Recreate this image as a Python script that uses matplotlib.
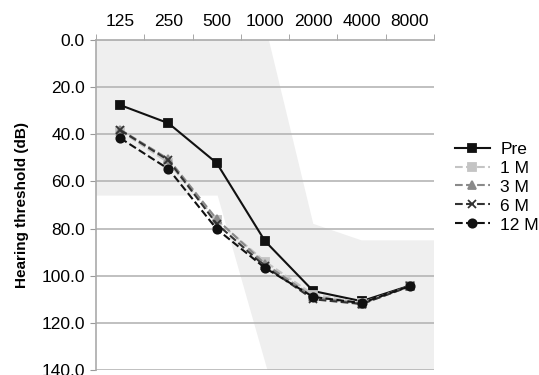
import numpy as np
import matplotlib; matplotlib.use("Agg")
import matplotlib.pyplot as plt
from matplotlib.ticker import FixedLocator

plt.rcParams["font.family"] = ["Liberation Sans", "DejaVu Sans"]

# ── Data ───────────────────────────────────────────────────────────────────────
freqs = ["125", "250", "500", "1000", "2000", "4000", "8000"]
pre   = [27.6, 35.3, 52.2, 85.3, 106.5, 110.8, 104.2]
m1    = [38.5, 52.0, 76.5, 94.0, 108.0, 111.5, 104.5]
m3    = [38.0, 50.5, 76.0, 95.0, 109.0, 112.0, 104.5]
m6    = [38.2, 51.0, 78.0, 96.0, 110.0, 112.0, 104.5]
m12   = [41.6, 54.7, 80.2, 96.7, 109.0, 111.6, 104.4]

# shaded region (frequency index, dB)
region_x = [-0.5, 3.08, 4.0, 5.0, 6.5, 6.5, 3.05, 2.02, -0.5]
region_y = [0, 0, 78, 85, 85, 140, 140, 66, 66]

yticks = [0, 20, 40, 60, 80, 100, 120, 140]

# ── Figure ─────────────────────────────────────────────────────────────────────
fig = plt.figure(figsize=(5.39, 3.75), dpi=100, facecolor="white")
ax = fig.add_axes([96/539, 1 - 370/375, (434 - 96)/539, (370 - 40)/375])

x = np.arange(len(freqs))
ax.fill(region_x, region_y, color="#efefef", lw=0, zorder=0)

for yv in yticks[1:]:
    ax.axhline(yv, color="#b5b5b5", lw=1.2, zorder=1)

series = [
    ("Pre",  pre, "-",  "#111111", "s", 6),
    ("1 M",  m1,  "--", "#c4c4c4", "s", 6),
    ("3 M",  m3,  "--", "#8a8a8a", "^", 6),
    ("6 M",  m6,  "--", "#333333", "x", 6),
    ("12 M", m12, "--", "#111111", "o", 6),
]
for lab, vals, ls, col, mk, ms in series:
    ax.plot(x, vals, ls=ls, color=col, marker=mk, ms=ms, lw=1.5,
            mew=1.3, label=lab, zorder=3)

ax.set_xlim(-0.5, 6.5)
ax.set_ylim(140, 0)
ax.set_yticks(yticks)
ax.set_yticklabels([f"{v:.1f}" for v in yticks], fontsize=12.5)
ax.set_ylabel("Hearing threshold (dB)", fontsize=11, fontweight="bold", labelpad=9)

ax.xaxis.tick_top()
ax.set_xticks(x)
ax.set_xticklabels(freqs, fontsize=12.5)
ax.xaxis.set_minor_locator(FixedLocator(np.arange(-0.5, 6.6, 1.0)))
ax.tick_params(axis="x", which="major", length=0, pad=8)
ax.tick_params(axis="x", which="minor", length=4, color="#999999", top=True, bottom=False)
ax.tick_params(axis="y", length=4, color="#999999", pad=4)

for s in ["right", "bottom"]:
    ax.spines[s].set_visible(False)
for s in ["left", "top"]:
    ax.spines[s].set_color("#aaaaaa")
    ax.spines[s].set_linewidth(1.2)

ax.legend(loc="center left", bbox_to_anchor=(455/539, 1 - 187/375),
          bbox_transform=fig.transFigure, frameon=False, fontsize=12.5,
          handlelength=2.0, handletextpad=0.6, labelspacing=0.22,
          borderaxespad=0, borderpad=0)

fig.savefig("out.png", dpi=100, facecolor="white")
